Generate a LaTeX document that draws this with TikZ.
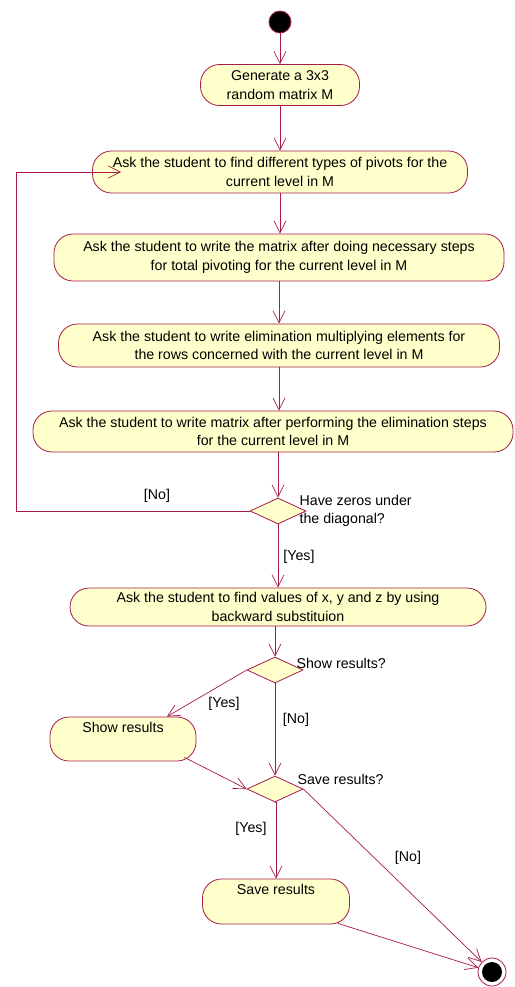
\documentclass[tikz,border=0pt]{standalone}
\usepackage{fontspec}
\setmainfont{Liberation Sans}
\usetikzlibrary{shapes.geometric,arrows.meta}
\definecolor{umlline}{RGB}{165,25,75}
\definecolor{umlfill}{RGB}{255,255,204}
\tikzset{
  activity/.style={draw=umlline,fill=umlfill,line width=0.8pt,rounded corners=19pt,align=center,inner sep=0pt},
  decision/.style={diamond,draw=umlline,fill=umlfill,line width=0.8pt,inner sep=0pt,minimum width=56pt,minimum height=26pt},
  flow/.style={draw=umlline,line width=0.7pt,-{Straight Barb[length=12pt,width=12pt]}},
  question/.style={anchor=west,align=left,inner sep=0pt},
  guard/.style={inner sep=0pt}
}

\begin{document}
\begin{tikzpicture}[x=1pt,y=-1pt,font=\fontsize{14.2}{18.5}\selectfont]
\useasboundingbox (0,0) rectangle (514,987);
% start and stop
\node[circle,draw=umlline,line width=0.8pt,fill=black,minimum size=22pt,inner sep=0pt] (start) at (280,22) {};
\node[circle,draw=umlline,line width=0.8pt,fill=white,minimum size=28pt,inner sep=0pt,
  path picture={\fill[black] (path picture bounding box.center) circle (10pt);}] (stop) at (492,972) {};
% activities
\node[activity,minimum width=159pt,minimum height=41pt] (gen) at (280,85) {Generate a 3x3\\random matrix M};
\node[activity,minimum width=375pt,minimum height=42pt] (pivots) at (280,172) {Ask the student to find different types of pivots for the\\current level in M};
\node[activity,minimum width=450pt,minimum height=47pt] (totpiv) at (279,257.5) {Ask the student to write the matrix after doing necessary steps\\for total pivoting for the current level in M};
\node[activity,minimum width=441pt,minimum height=43pt] (elim) at (279,345.5) {Ask the student to write elimination multiplying elements for\\the rows concerned with the current level in M};
\node[activity,minimum width=480pt,minimum height=41pt] (elimstep) at (273,431.5) {Ask the student to write matrix after performing the elimination steps\\for the current level in M};
\node[activity,minimum width=416pt,minimum height=38pt] (backsub) at (278,607) {Ask the student to find values of x, y and z by using\\backward substituion};
\node[activity,minimum width=146pt,minimum height=44pt] (show) at (123,739) {Show results\\\strut};
\node[activity,minimum width=147pt,minimum height=45pt] (save) at (276,901.5) {Save results\\\strut};
% decisions
\node[decision] (zeros) at (278,511) {};
\node[decision] (showq) at (275,670) {};
\node[decision] (saveq) at (275,789) {};
\node[question] (zerosq) at ([xshift=-7pt]zeros.east) {Have zeros under\\the diagonal?};
\node[question] (showqt) at ([xshift=-7pt,yshift=7pt]showq.east) {Show results?};
\node[question] (saveqt) at ([xshift=-6pt,yshift=10pt]saveq.east) {Save results?};
% guards
\node[guard] (noloop) at (157,496) {[No]};
\node[guard] (yeszeros) at (299,557) {[Yes]};
\node[guard] (yesshow) at (224,704) {[Yes]};
\node[guard] (noshow) at (296,720) {[No]};
\node[guard] (yessave) at (251,829) {[Yes]};
\node[guard] (nosave) at (408,858) {[No]};
\coordinate (loopx) at (16,0);
% flows
\draw[flow] (start) -- (gen.north);
\draw[flow] (gen.south) -- (gen.south |- pivots.north);
\draw[flow] (pivots.south) -- (pivots.south |- totpiv.north);
\draw[flow] (totpiv.south) -- (totpiv.south |- elim.north);
\draw[flow] (elim.south) -- (elim.south |- elimstep.north);
\draw[flow] (zeros.north |- elimstep.south) -- (zeros.north);
\draw[flow] (zeros.west) -- (zeros.west -| loopx) |- ([xshift=29pt]pivots.west);
\draw[flow] (zeros.south) -- (zeros.south |- backsub.north);
\draw[flow] (showq.north |- backsub.south) -- (showq.north);
\draw[flow] (showq.west) -- ([xshift=44pt]show.north);
\draw[flow] (showq.south) -- (saveq.north);
\draw[flow] ([xshift=-12pt,yshift=4pt]show.south east) -- (saveq.west);
\draw[flow] (saveq.south) -- (saveq.south -| save.north) -- (save.north);
\draw[flow] (saveq.east) -- (stop);
\draw[flow] ([xshift=-12pt,yshift=1pt]save.south east) -- (stop);
\end{tikzpicture}
\end{document}
